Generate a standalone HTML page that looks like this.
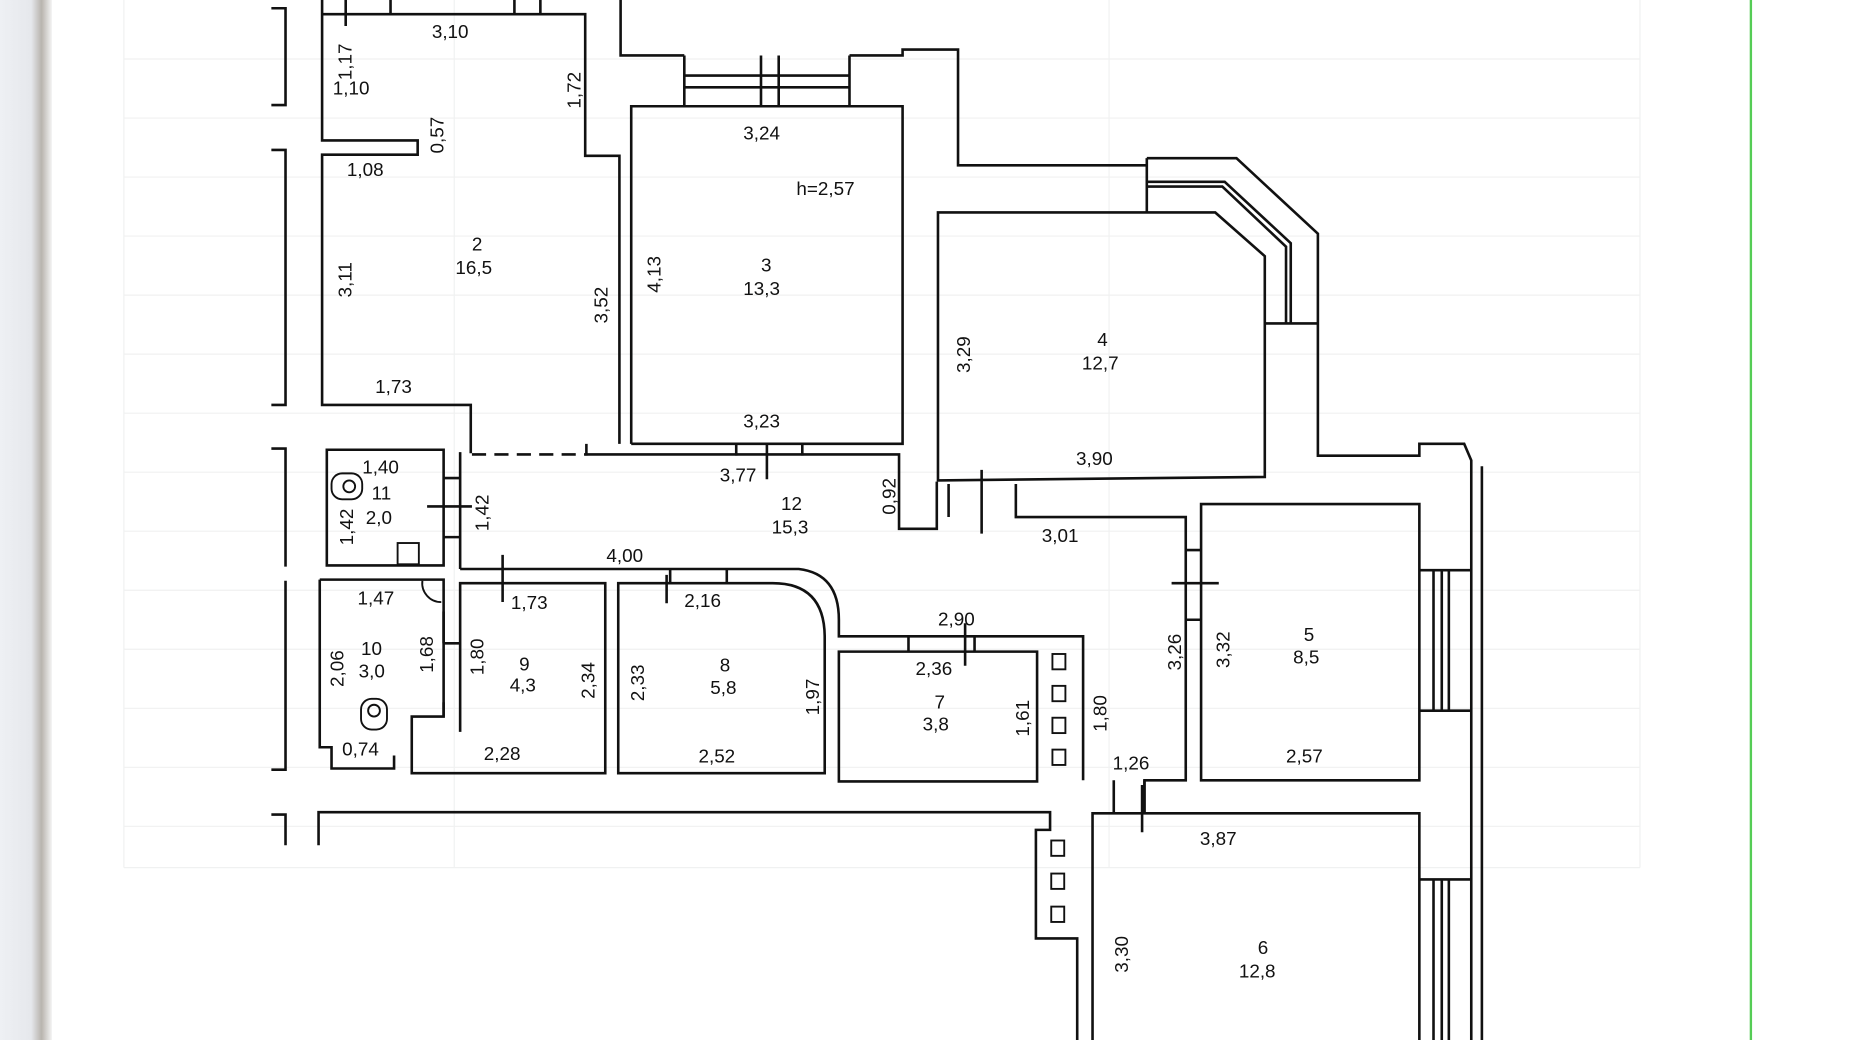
<!DOCTYPE html>
<html><head><meta charset="utf-8"><style>
html,body{margin:0;padding:0;background:#fff;width:1850px;height:1040px;overflow:hidden}
svg{display:block}
text{font-family:"Liberation Sans",sans-serif;font-size:16px;fill:#111}
</style></head><body>
<svg width="1850" height="1040" viewBox="0 0 1568 881" preserveAspectRatio="none">
<defs><linearGradient id="lg" x1="0" x2="1"><stop offset="0" stop-color="#eef0f4"/><stop offset="0.6" stop-color="#e6e8ec"/><stop offset="0.8" stop-color="#b8b4ae"/><stop offset="1" stop-color="#f4f4f4"/></linearGradient></defs>
<rect width="1568" height="881" fill="#fff"/>
<rect x="0" y="0" width="44" height="881" fill="url(#lg)"/>
<rect x="1483" y="0" width="2" height="881" fill="#5c5"/>
<g stroke="#f0f1f1" stroke-width="1" fill="none">
<path d="M105 0V735M385 0V735M940 0V735M1390 0V735M105 50H1390M105 100H1390M105 150H1390M105 200H1390M105 250H1390M105 300H1390M105 350H1390M105 400H1390M105 450H1390M105 500H1390M105 550H1390M105 600H1390M105 650H1390M105 700H1390M105 735H1390"/>
</g>
<g stroke="#111" stroke-width="2.2" fill="none">
<path d="M230 7H242V89H230M230 127H242V343H230M230 380H242V480M242 492V652H230M230 690H242V716"/>
<path d="M273 0V119H354V131H273V343H399V384"/>
<path d="M273 12H496V132H525V376"/>
<path d="M293 0V22M331 0V12M436 0V12M458 0V12"/>
<path d="M526 0V47H580M720 47H765V42H812V140H972"/>
<path d="M580 47V90M720 47V90M645 47V90M660 47V90M580 64H720M580 74H720"/>
<path d="M535 376V90H765V376H535"/>
<path d="M497 376V386M680 376V386M624 376V386"/>
<path d="M400 385H495" stroke-dasharray="12,7"/>
<path d="M495 385H762V448H794V408"/>
<!-- room 4 -->
<path d="M795 180H1030L1072 217V404L795 407Z"/>
<path d="M972 134V180M972 134H1048L1117 198V386H1203V376H1241L1247 390V881"/>
<path d="M972 154H1038L1094 206V274M972 158H1036L1090 209V274M1072 274H1117"/>
<path d="M804 410V438M861 410V438H1005V661H970V688"/>
<path d="M1256 395V881"/>
<path d="M1203 483H1247M1203 602H1247M1215 483V602M1222 483V602M1228 483V602M1203 745H1247M1215 745V881M1222 745V881M1228 745V881"/>
<path d="M1018 427H1203V661H1018Z"/>
<path d="M1005 466H1018M1005 525H1018M993 494H1033"/>
<path d="M277 381H376V479H277Z"/>
<path d="M390 383V482"/>
<path d="M376 405H390M376 455H390M362 429H400"/>
<path d="M390 482H677Q711 486 711 525V539H918V661"/>
<path d="M271 491V633H281V651H334V640"/>
<path d="M271 491H376V607H349V655H513V494H390V620"/>
<path d="M376 518V545M376 595V607"/>
<path d="M376 545H390"/>
<path d="M524 494H655Q699 494 699 540V655H524Z"/>
<path d="M568 482V494M616 482V494M565 487V511"/>
<path d="M711 552H879V662H711Z"/>
<path d="M770 539V552M826 539V552M818 528V564"/>
<path d="M944 661V688M970 661V688"/>
<path d="M926 881V689H1203V881"/>
<path d="M270 716V688H890V703H878V795H913V881"/>
<path d="M426 470V510M650 376V406M832 398V452M968 665V705"/>
</g>
<g stroke="#111" stroke-width="1.6" fill="none">
<rect x="892" y="554" width="11" height="13"/><rect x="892" y="581" width="11" height="13"/><rect x="892" y="608" width="11" height="13"/><rect x="892" y="635" width="11" height="13"/>
<rect x="891" y="712" width="11" height="13"/><rect x="891" y="740" width="11" height="13"/><rect x="891" y="768" width="11" height="13"/>
<rect x="281" y="401" width="26" height="22" rx="9"/><circle cx="296" cy="412" r="5"/>
<rect x="306" y="592" width="22" height="26" rx="9"/><circle cx="317" cy="602" r="5"/>
<rect x="337" y="460" width="18" height="18"/>
<path d="M358 492A16 16 0 0 0 374 510"/>
</g>
<g font-size="16">
<text x="366" y="32">3,10</text>
<text x="282" y="80">1,10</text>
<text x="294" y="149">1,08</text>
<text x="318" y="333">1,73</text>
<text x="400" y="212">2</text>
<text x="386" y="232">16,5</text>
<text x="630" y="118">3,24</text>
<text x="675" y="165">h=2,57</text>
<text x="645" y="230">3</text>
<text x="630" y="250">13,3</text>
<text x="630" y="362">3,23</text>
<text x="610" y="408">3,77</text>
<text x="930" y="293">4</text>
<text x="917" y="313">12,7</text>
<text x="912" y="394">3,90</text>
<text x="307" y="401">1,40</text>
<text x="315" y="423">11</text>
<text x="310" y="444">2,0</text>
<text x="662" y="432">12</text>
<text x="654" y="452">15,3</text>
<text x="883" y="459">3,01</text>
<text x="514" y="476">4,00</text>
<text x="303" y="512">1,47</text>
<text x="433" y="516">1,73</text>
<text x="580" y="514">2,16</text>
<text x="795" y="530">2,90</text>
<text x="776" y="572">2,36</text>
<text x="610" y="569">8</text>
<text x="602" y="588">5,8</text>
<text x="440" y="568">9</text>
<text x="432" y="586">4,3</text>
<text x="306" y="555">10</text>
<text x="304" y="574">3,0</text>
<text x="1105" y="543">5</text>
<text x="1096" y="562">8,5</text>
<text x="792" y="600">7</text>
<text x="782" y="619">3,8</text>
<text x="290" y="640">0,74</text>
<text x="410" y="644">2,28</text>
<text x="592" y="646">2,52</text>
<text x="1090" y="646">2,57</text>
<text x="943" y="652">1,26</text>
<text x="1017" y="716">3,87</text>
<text x="1066" y="808">6</text>
<text x="1050" y="828">12,8</text>
</g>
<g font-size="16">
<text transform="translate(298,68) rotate(-90)">1,17</text>
<text transform="translate(492,92) rotate(-90)">1,72</text>
<text transform="translate(376,130) rotate(-90)">0,57</text>
<text transform="translate(298,252) rotate(-90)">3,11</text>
<text transform="translate(515,274) rotate(-90)">3,52</text>
<text transform="translate(560,248) rotate(-90)">4,13</text>
<text transform="translate(822,316) rotate(-90)">3,29</text>
<text transform="translate(759,436) rotate(-90)">0,92</text>
<text transform="translate(299,462) rotate(-90)">1,42</text>
<text transform="translate(414,450) rotate(-90)">1,42</text>
<text transform="translate(291,582) rotate(-90)">2,06</text>
<text transform="translate(367,570) rotate(-90)">1,68</text>
<text transform="translate(410,572) rotate(-90)">1,80</text>
<text transform="translate(504,592) rotate(-90)">2,34</text>
<text transform="translate(546,594) rotate(-90)">2,33</text>
<text transform="translate(694,606) rotate(-90)">1,97</text>
<text transform="translate(872,624) rotate(-90)">1,61</text>
<text transform="translate(938,620) rotate(-90)">1,80</text>
<text transform="translate(1001,568) rotate(-90)">3,26</text>
<text transform="translate(1042,566) rotate(-90)">3,32</text>
<text transform="translate(956,824) rotate(-90)">3,30</text>
</g>
</svg>
</body></html>
